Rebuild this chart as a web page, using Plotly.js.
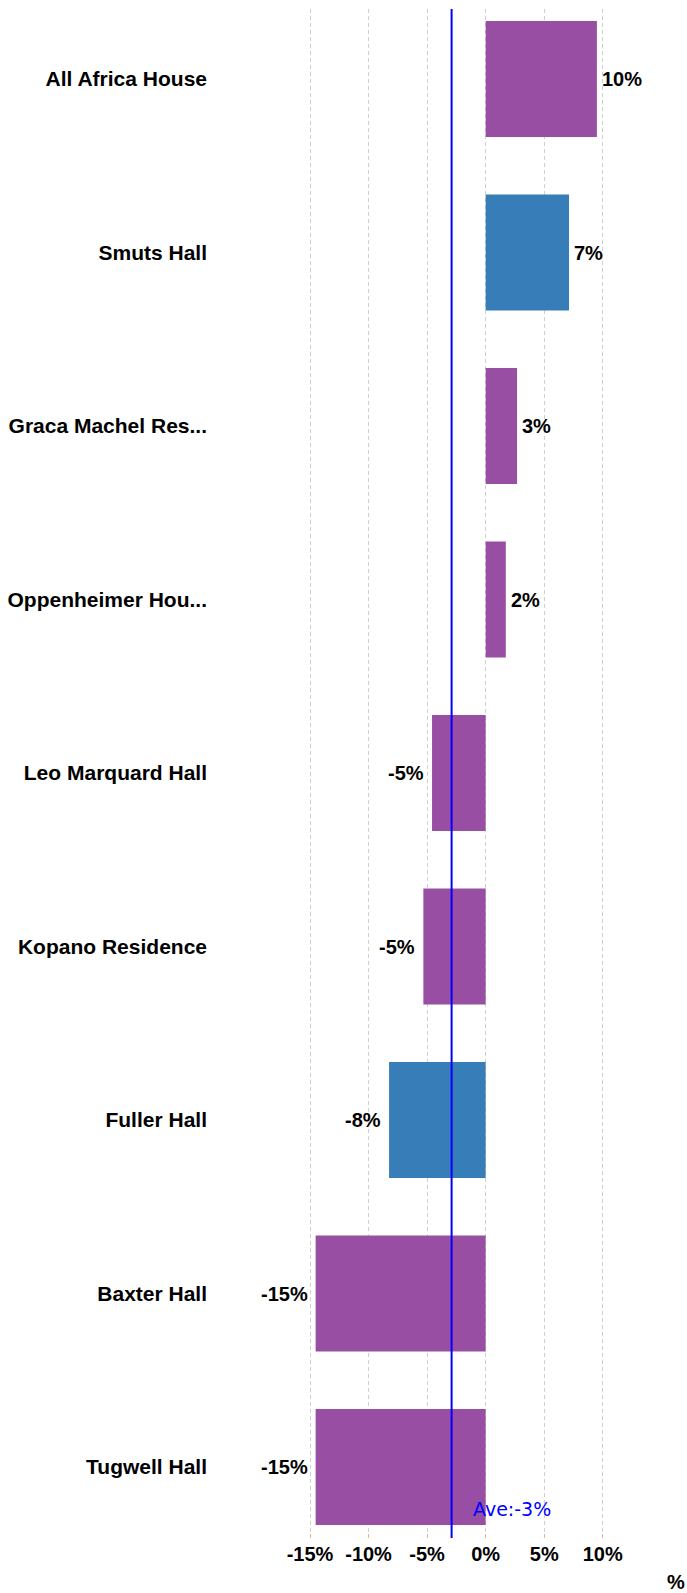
<!DOCTYPE html>
<html>
<head>
<meta charset="utf-8">
<script src="https://cdn.plot.ly/plotly-3.0.1.min.js"></script>
<style>
  html, body { margin: 0; padding: 0; background: #fff; }
  #chart { width: 687px; height: 1593px; }
</style>
</head>
<body>
<div id="chart"></div>
<script>
// ---- data ----
const halls = [
  'All Africa House',
  'Smuts Hall',
  'Graca Machel Res...',
  'Oppenheimer Hou...',
  'Leo Marquard Hall',
  'Kopano Residence',
  'Fuller Hall',
  'Baxter Hall',
  'Tugwell Hall'
];
const changePct = [9.5, 7.12, 2.68, 1.72, -4.58, -5.32, -8.25, -14.52, -14.52];
const highlighted = ['Smuts Hall', 'Fuller Hall'];
const xTicks = [-15, -10, -5, 0, 5, 10];

// ---- derived ----
const avg = changePct.reduce((a, b) => a + b, 0) / changePct.length;
const PURPLE = '#984EA3', BLUE = '#377EB8';
const barColors = halls.map(h => highlighted.includes(h) ? BLUE : PURPLE);
const fmt = v => Math.round(v) + '%';

const labelFont = { family: 'Liberation Sans, Arial, sans-serif', size: 20, color: '#000' };
const catFont = { family: 'Liberation Sans, Arial, sans-serif', size: 21, color: '#000' };
const boldLabel = t => '<b>' + t + '</b>';

const trace = {
  type: 'bar',
  orientation: 'h',
  y: halls.map((h, i) => i),
  x: changePct,
  marker: { color: barColors, line: { width: 0 } },
  hoverinfo: 'skip'
};

const valueAnnotations = changePct.map((v, i) => ({
  x: v, y: i, xref: 'x', yref: 'y',
  text: boldLabel(fmt(v)),
  showarrow: false,
  xanchor: v >= 0 ? 'left' : 'right',
  yanchor: 'middle',
  xshift: v >= 0 ? 3 : -6,
  font: labelFont
}));

const layout = {
  width: 687, height: 1593,
  margin: { l: 214, r: 12, t: 9, b: 55, pad: 0 },
  paper_bgcolor: '#fff', plot_bgcolor: '#fff',
  showlegend: false,
  bargap: 0.331,
  xaxis: {
    range: [-23.2, 16.17],
    tickvals: xTicks,
    ticktext: xTicks.map(t => boldLabel(t + '%')),
    tickfont: labelFont,
    showgrid: true,
    gridcolor: '#d0d0d0',
    gridwidth: 1,
    griddash: '4px,3px',
    zeroline: false,
    showline: false,
    ticks: 'inside',
    ticklen: 4,
    tickcolor: '#f7b27a',
    ticklabelstandoff: 2,
    automargin: false,
    fixedrange: true
  },
  yaxis: {
    range: [8.409, -0.4035],
    tickvals: halls.map((h, i) => i),
    ticktext: halls.map(boldLabel),
    tickfont: catFont,
    showgrid: false,
    zeroline: false,
    showline: false,
    ticks: '',
    ticklabelstandoff: 6,
    automargin: false,
    fixedrange: true
  },
  shapes: [{
    type: 'line', xref: 'x', yref: 'paper',
    x0: avg, x1: avg, y0: 0, y1: 1,
    line: { color: '#0000ff', width: 2 },
    layer: 'above'
  }],
  annotations: valueAnnotations.concat([
    {
      x: avg, y: 0, xref: 'x', yref: 'paper',
      text: 'Ave:' + Math.round(avg) + '%',
      showarrow: false, xanchor: 'left', yanchor: 'middle',
      xshift: 19, yshift: 29,
      font: { family: 'DejaVu Sans, sans-serif', size: 19, color: '#0000ff' }
    },
    {
      x: 1, y: 0, xref: 'paper', yref: 'paper',
      text: boldLabel('%'),
      showarrow: false, xanchor: 'right', yanchor: 'middle',
      xshift: 12, yshift: -44,
      font: labelFont
    }
  ])
};

Plotly.newPlot('chart', [trace], layout, { displayModeBar: false, staticPlot: true });
</script>
</body>
</html>
